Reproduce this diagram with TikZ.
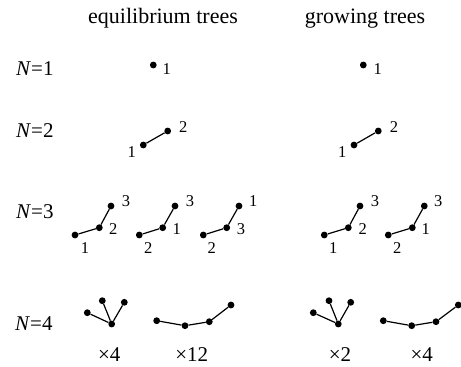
\documentclass[tikz,border=0pt]{standalone}
\usepackage{fontspec}
\setmainfont{Liberation Serif}
\begin{document}
\begin{tikzpicture}[x=1pt,y=-1pt,
  dot/.style={circle,fill=black,inner sep=0pt,minimum size=6.8pt},
  lbl/.style={inner sep=0pt,anchor=center,font=\fontsize{16.5}{16.5}\selectfont},
  head/.style={inner sep=0pt,anchor=base,font=\fontsize{22}{22}\selectfont},
  nlab/.style={inner sep=0pt,anchor=base west,font=\fontsize{21}{21}\selectfont},
  mult/.style={inner sep=0pt,anchor=base,font=\fontsize{21}{21}\selectfont},
  edge/.style={line width=1.2pt}]
\useasboundingbox (0,0) rectangle (461,367);
% headings
\node[head] (h1) at (163,23) {equilibrium trees};
\node[head] (h2) at (365,23) {growing trees};
% row labels
\node[nlab] (n1) at (16,75) {\textit{N}=1};
\node[nlab] (n2) at (16,137) {\textit{N}=2};
\node[nlab] (n3) at (16,218) {\textit{N}=3};
\node[nlab] (n4) at (15,330.5) {\textit{N}=4};
% N=1
\node[dot] (e1a) at (153.3,65) {};
\node[lbl] (e1al) at (166.7,69.5) {1};
\node[dot] (g1a) at (363.3,65) {};
\node[lbl] (g1al) at (377.7,69.5) {1};
% N=2
\node[dot] (e2a) at (143.3,145) {};
\node[dot] (e2b) at (167.7,131) {};
\draw[edge] (e2a) -- (e2b);
\node[lbl] (e2al) at (131.7,151.7) {1};
\node[lbl] (e2bl) at (183.3,127.3) {2};
\node[dot] (g2a) at (354,145) {};
\node[dot] (g2b) at (378.3,131) {};
\draw[edge] (g2a) -- (g2b);
\node[lbl] (g2al) at (342.3,151.7) {1};
\node[lbl] (g2bl) at (394,127.3) {2};
% N=3 equilibrium
\node[dot] (t1a) at (75,235) {};
\node[dot] (t1b) at (99.3,227.7) {};
\node[dot] (t1c) at (111,206) {};
\draw[edge] (t1a) -- (t1b) -- (t1c);
\node[lbl] (t1al) at (85,248.3) {1};
\node[lbl] (t1bl) at (113.3,229) {2};
\node[lbl] (t1cl) at (126,200.7) {3};
\node[dot] (t2a) at (139.3,235) {};
\node[dot] (t2b) at (162.7,227.7) {};
\node[dot] (t2c) at (175,206) {};
\draw[edge] (t2a) -- (t2b) -- (t2c);
\node[lbl] (t2al) at (148.3,248.3) {2};
\node[lbl] (t2bl) at (176.7,229) {1};
\node[lbl] (t2cl) at (190,200.7) {3};
\node[dot] (t3a) at (203.3,235) {};
\node[dot] (t3b) at (226.7,227.7) {};
\node[dot] (t3c) at (239,206) {};
\draw[edge] (t3a) -- (t3b) -- (t3c);
\node[lbl] (t3al) at (211.7,248.3) {2};
\node[lbl] (t3bl) at (241,229) {3};
\node[lbl] (t3cl) at (253.3,200.7) {1};
% N=3 growing
\node[dot] (u1a) at (324.3,235) {};
\node[dot] (u1b) at (348.3,227.7) {};
\node[dot] (u1c) at (360,206) {};
\draw[edge] (u1a) -- (u1b) -- (u1c);
\node[lbl] (u1al) at (333.3,248.3) {1};
\node[lbl] (u1bl) at (362.7,229) {2};
\node[lbl] (u1cl) at (375,200.7) {3};
\node[dot] (u2a) at (388.3,235) {};
\node[dot] (u2b) at (412.3,227.7) {};
\node[dot] (u2c) at (424.3,206) {};
\draw[edge] (u2a) -- (u2b) -- (u2c);
\node[lbl] (u2al) at (397.3,248.3) {2};
\node[lbl] (u2bl) at (425.7,229) {1};
\node[lbl] (u2cl) at (438.3,200.7) {3};
% N=4 equilibrium
\node[dot] (s1c) at (111.7,324) {};
\node[dot] (s1a) at (87.3,312.7) {};
\node[dot] (s1b) at (102.3,300.7) {};
\node[dot] (s1d) at (124.3,302.3) {};
\draw[edge] (s1a) -- (s1c) (s1b) -- (s1c) (s1d) -- (s1c);
\node[dot] (c1a) at (156.7,320.7) {};
\node[dot] (c1b) at (185,325.7) {};
\node[dot] (c1c) at (209.3,321.7) {};
\node[dot] (c1d) at (231,305) {};
\draw[edge] (c1a) -- (c1b) -- (c1c) -- (c1d);
\node[mult] (m1) at (109.3,361.7) {×4};
\node[mult] (m2) at (191.7,361.7) {×12};
% N=4 growing
\node[dot] (s2c) at (338.3,324) {};
\node[dot] (s2a) at (313.3,312.7) {};
\node[dot] (s2b) at (329,300.7) {};
\node[dot] (s2d) at (350.7,302.3) {};
\draw[edge] (s2a) -- (s2c) (s2b) -- (s2c) (s2d) -- (s2c);
\node[dot] (c2a) at (383.3,320.7) {};
\node[dot] (c2b) at (411.7,325.7) {};
\node[dot] (c2c) at (436,321.7) {};
\node[dot] (c2d) at (458.3,305) {};
\draw[edge] (c2a) -- (c2b) -- (c2c) -- (c2d);
\node[mult] (m3) at (340,361.7) {×2};
\node[mult] (m4) at (421.7,361.7) {×4};
\end{tikzpicture}
\end{document}
